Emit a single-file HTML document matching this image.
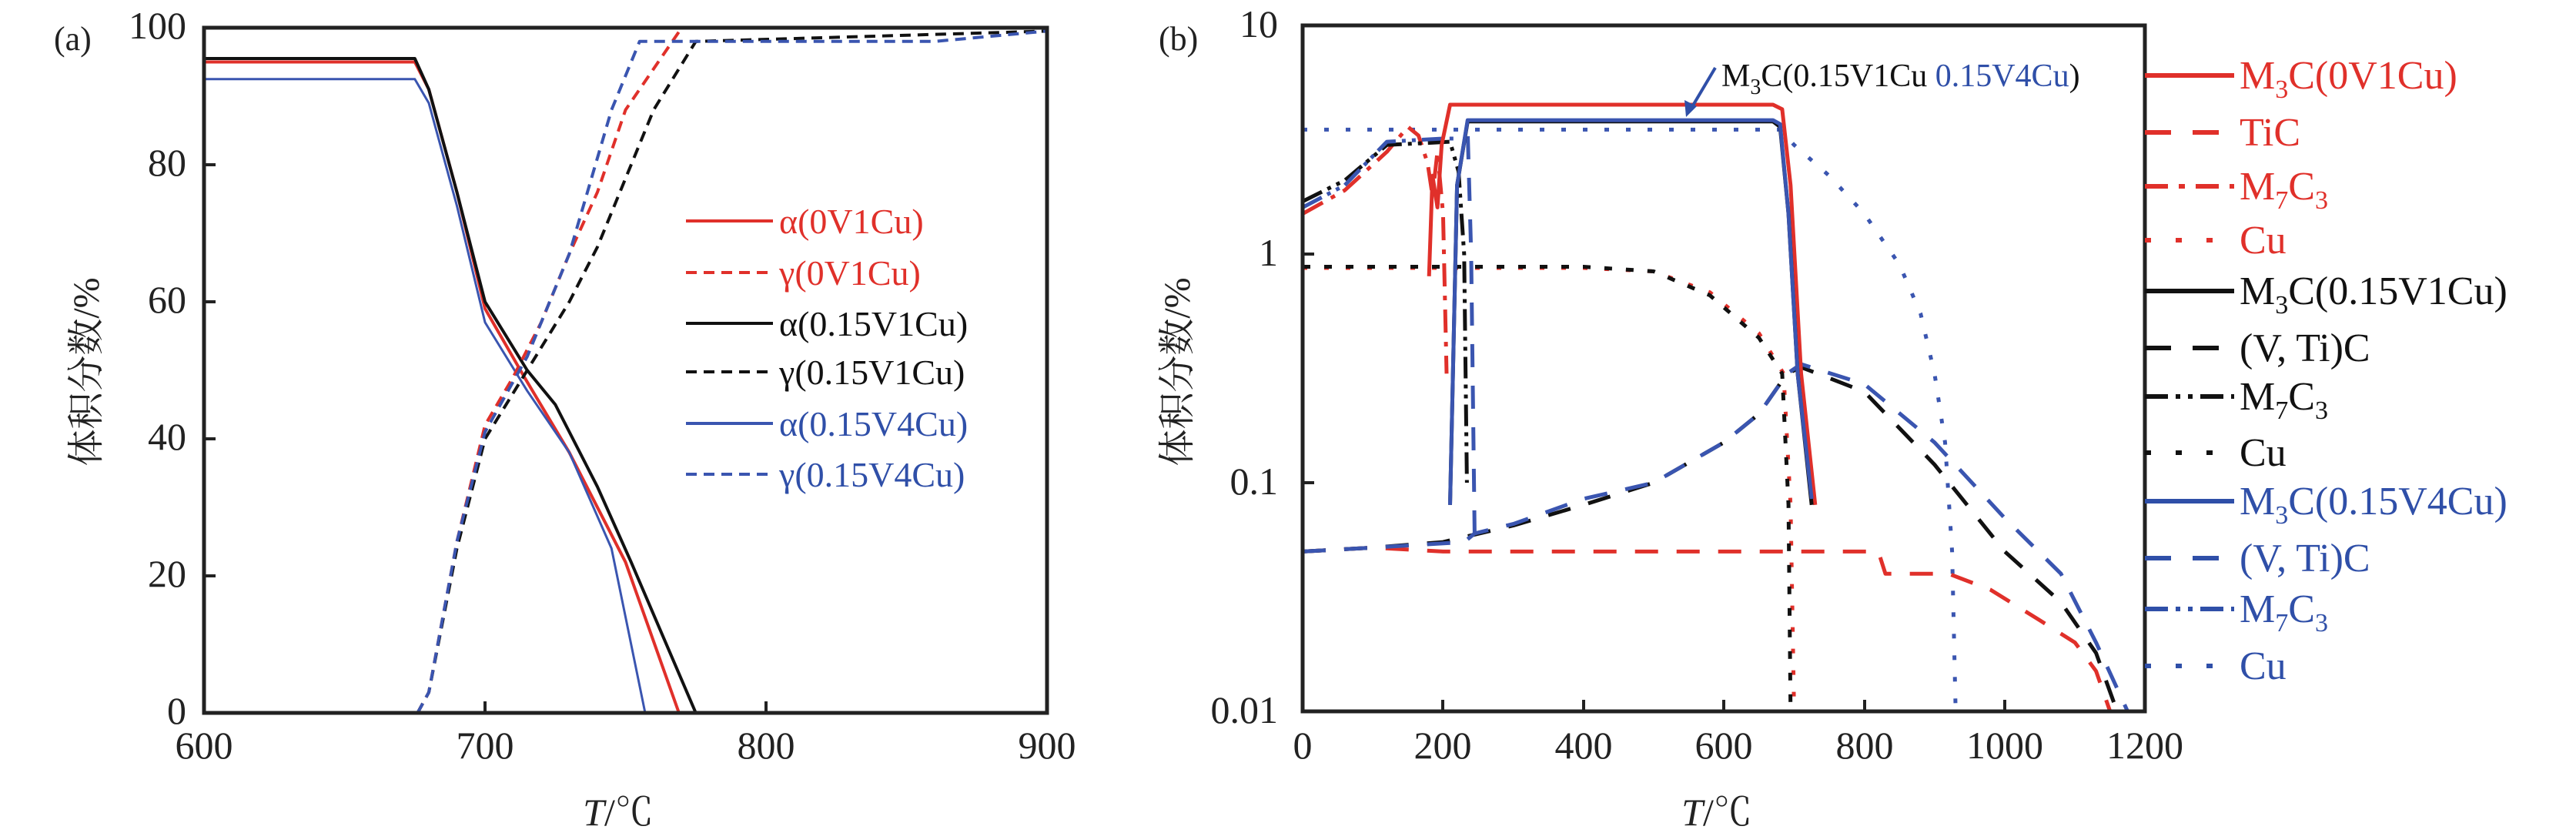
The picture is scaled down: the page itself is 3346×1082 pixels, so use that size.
<!DOCTYPE html>
<html><head><meta charset="utf-8">
<style>
html,body{margin:0;padding:0;background:#fff;}
svg{display:block;}
text{font-family:"Liberation Serif","Noto Serif CJK SC",serif;}
</style></head>
<body>
<svg id="s" width="3346" height="1082" viewBox="0 0 3346 1082" xmlns="http://www.w3.org/2000/svg">
<g id="curves" fill="none" stroke-linejoin="round"></g>
<rect x="265" y="36" width="1095" height="890" fill="none" stroke="#222" stroke-width="5"/>
<g stroke="#222" stroke-width="4">
<line x1="265" y1="748" x2="280" y2="748"/><line x1="265" y1="570" x2="280" y2="570"/><line x1="265" y1="392" x2="280" y2="392"/><line x1="265" y1="214" x2="280" y2="214"/>
<line x1="630" y1="926" x2="630" y2="911"/><line x1="995" y1="926" x2="995" y2="911"/>
</g>
<g font-size="50" fill="#222" text-anchor="end">
<text x="242" y="50">100</text><text x="242" y="228">80</text><text x="242" y="406">60</text><text x="242" y="584">40</text><text x="242" y="762">20</text><text x="242" y="940">0</text>
</g>
<g font-size="50" fill="#222" text-anchor="middle">
<text x="265" y="985">600</text><text x="630" y="985">700</text><text x="995" y="985">800</text><text x="1360" y="985">900</text>
</g>
<text x="70" y="65" font-size="44" fill="#222">(a)</text>
<text x="0" y="0" font-size="48" fill="#222" text-anchor="middle" transform="translate(128,483) rotate(-90)">体积分数/%</text>
<text x="803" y="1072" font-size="50" fill="#222" text-anchor="middle"><tspan font-style="italic">T</tspan>/℃</text>
<g stroke-width="4">
<line x1="891" y1="287" x2="1004" y2="287" stroke="#e0302a"/>
<line x1="891" y1="354" x2="1004" y2="354" stroke="#e0302a" stroke-dasharray="14,9"/>
<line x1="891" y1="420" x2="1004" y2="420" stroke="#111"/>
<line x1="891" y1="483" x2="1004" y2="483" stroke="#111" stroke-dasharray="14,9"/>
<line x1="891" y1="550" x2="1004" y2="550" stroke="#3a55b0"/>
<line x1="891" y1="616" x2="1004" y2="616" stroke="#3a55b0" stroke-dasharray="14,9"/>
</g>
<g font-size="46">
<text x="1012" y="303" fill="#e0302a">α(0V1Cu)</text>
<text x="1012" y="370" fill="#e0302a">γ(0V1Cu)</text>
<text x="1012" y="436" fill="#111">α(0.15V1Cu)</text>
<text x="1012" y="499" fill="#111">γ(0.15V1Cu)</text>
<text x="1012" y="566" fill="#2f4fa8">α(0.15V4Cu)</text>
<text x="1012" y="632" fill="#2f4fa8">γ(0.15V4Cu)</text>
</g>

<rect x="1692" y="33" width="1094" height="891" fill="none" stroke="#222" stroke-width="5"/>
<g stroke="#222" stroke-width="4">
<line x1="1692" y1="330" x2="1707" y2="330"/><line x1="1692" y1="627" x2="1707" y2="627"/>
<line x1="1874" y1="924" x2="1874" y2="909"/><line x1="2057" y1="924" x2="2057" y2="909"/><line x1="2239" y1="924" x2="2239" y2="909"/><line x1="2422" y1="924" x2="2422" y2="909"/><line x1="2604" y1="924" x2="2604" y2="909"/>
</g>
<g font-size="50" fill="#222" text-anchor="end">
<text x="1660" y="48">10</text><text x="1660" y="345">1</text><text x="1660" y="642">0.1</text><text x="1660" y="939">0.01</text>
</g>
<g font-size="50" fill="#222" text-anchor="middle">
<text x="1692" y="985">0</text><text x="1874" y="985">200</text><text x="2057" y="985">400</text><text x="2239" y="985">600</text><text x="2422" y="985">800</text><text x="2604" y="985">1000</text><text x="2786" y="985">1200</text>
</g>
<text x="1505" y="65" font-size="44" fill="#222">(b)</text>
<text x="0" y="0" font-size="48" fill="#222" text-anchor="middle" transform="translate(1545,483) rotate(-90)">体积分数/%</text>
<text x="2230" y="1072" font-size="50" fill="#222" text-anchor="middle"><tspan font-style="italic">T</tspan>/℃</text>
<text x="2236" y="112" font-size="42" fill="#111">M<tspan font-size="28" dy="10">3</tspan><tspan dy="-10">C(0.15V1Cu </tspan><tspan fill="#2f4fa8">0.15V4Cu</tspan>)</text>
<line x1="2228" y1="88" x2="2196" y2="142" stroke="#2f4fa8" stroke-width="4"/>
<polygon points="2190,152 2188,130 2204,138" fill="#2f4fa8"/>
<g stroke-width="6">
<line x1="2786" y1="98" x2="2902" y2="98" stroke="#e0302a"/>
<line x1="2786" y1="172" x2="2902" y2="172" stroke="#e0302a" stroke-dasharray="34,28"/>
<line x1="2786" y1="242" x2="2902" y2="242" stroke="#e0302a" stroke-dasharray="30,14,8,14"/>
<line x1="2786" y1="312" x2="2902" y2="312" stroke="#e0302a" stroke-dasharray="8,32"/>
<line x1="2786" y1="378" x2="2902" y2="378" stroke="#111"/>
<line x1="2786" y1="452" x2="2902" y2="452" stroke="#111" stroke-dasharray="34,28"/>
<line x1="2786" y1="515" x2="2902" y2="515" stroke="#111" stroke-dasharray="30,10,6,10,6,10"/>
<line x1="2786" y1="588" x2="2902" y2="588" stroke="#111" stroke-dasharray="8,32"/>
<line x1="2786" y1="651" x2="2902" y2="651" stroke="#2f4fa8"/>
<line x1="2786" y1="725" x2="2902" y2="725" stroke="#2f4fa8" stroke-dasharray="34,28"/>
<line x1="2786" y1="791" x2="2902" y2="791" stroke="#2f4fa8" stroke-dasharray="30,10,6,10,6,10"/>
<line x1="2786" y1="865" x2="2902" y2="865" stroke="#2f4fa8" stroke-dasharray="8,32"/>
</g>
<g font-size="52">
<text x="2909" y="115" fill="#e0302a">M<tspan font-size="34" dy="12">3</tspan><tspan dy="-12">C(0V1Cu)</tspan></text>
<text x="2909" y="189" fill="#e0302a">TiC</text>
<text x="2909" y="259" fill="#e0302a">M<tspan font-size="34" dy="12">7</tspan><tspan dy="-12">C</tspan><tspan font-size="34" dy="12">3</tspan></text>
<text x="2909" y="329" fill="#e0302a">Cu</text>
<text x="2909" y="395" fill="#111">M<tspan font-size="34" dy="12">3</tspan><tspan dy="-12">C(0.15V1Cu)</tspan></text>
<text x="2909" y="469" fill="#111">(V, Ti)C</text>
<text x="2909" y="532" fill="#111">M<tspan font-size="34" dy="12">7</tspan><tspan dy="-12">C</tspan><tspan font-size="34" dy="12">3</tspan></text>
<text x="2909" y="605" fill="#111">Cu</text>
<text x="2909" y="668" fill="#2f4fa8">M<tspan font-size="34" dy="12">3</tspan><tspan dy="-12">C(0.15V4Cu)</tspan></text>
<text x="2909" y="742" fill="#2f4fa8">(V, Ti)C</text>
<text x="2909" y="808" fill="#2f4fa8">M<tspan font-size="34" dy="12">7</tspan><tspan dy="-12">C</tspan><tspan font-size="34" dy="12">3</tspan></text>
<text x="2909" y="882" fill="#2f4fa8">Cu</text>
</g>
</svg>
<script>
(function(){
var g=document.getElementById('curves');
var R='#e0302a',K='#111',B='#3a55b0';
function ax(t){return 265+(t-600)*3.65;} function ay(v){return 926-v*8.9;}
function bx(t){return 1692+t*0.912;} function by(v){return 924-(Math.log10(v)+2)*297;}
function add(pts,fx,fy,col,w,dash){
 var d=pts.map(function(p,i){return (i?'L':'M')+fx(p[0]).toFixed(1)+' '+fy(p[1]).toFixed(1);}).join(' ');
 var p=document.createElementNS('http://www.w3.org/2000/svg','path');
 p.setAttribute('d',d);p.setAttribute('stroke',col);p.setAttribute('stroke-width',w);
 if(dash)p.setAttribute('stroke-dasharray',dash);g.appendChild(p);}
add([[600,95],[675,95],[680,91],[690,76],[700,59],[714,49],[730,38],[750,22],[769,0]],ax,ay,R,4);
add([[600,95.5],[675,95.5],[680,91],[690,76],[700,60],[715,50],[725,45],[740,33],[752,22],[775,0]],ax,ay,K,4);
add([[600,92.5],[675,92.5],[680,89],[690,74],[700,57],[715,47],[730,38],[745,24],[757,0]],ax,ay,B,3);
var dA='14,9';
add([[676,0],[680,3],[690,25],[700,42],[710,49],[720,57],[730,67],[740,76],[750,88],[770,100],[900,100]],ax,ay,R,4,dA);
add([[676,0],[680,3],[690,24],[700,40],[715,50],[730,60],[740,68],[750,78],[760,88],[775,98],[900,99.5]],ax,ay,K,4,dA);
add([[676,0],[680,3],[690,25],[700,41],[715,52],[730,67],[745,88],[755,98],[860,98],[900,99.5]],ax,ay,B,4,dA);
var D='30,24',DD='30,12,6,12',DDD='28,8,5,8,5,8',DT='6,22';
add([[0,3.5],[680,3.5],[700,3],[750,2.2],[800,1.5],[850,0.9],[880,0.55],[900,0.3],[915,0.15],[925,0.05],[930,0.01]],bx,by,B,5,DT);
add([[0,0.87],[400,0.87],[500,0.84],[580,0.68],[650,0.45],[685,0.3],[695,0.08],[700,0.01]],bx,by,R,5,DT);
add([[0,0.88],[400,0.88],[500,0.84],[580,0.66],[650,0.43],[683,0.3],[692,0.08],[695,0.01]],bx,by,K,5,'10,18');
add([[0,0.05],[100,0.052],[200,0.05],[820,0.05],[830,0.04],[920,0.04],[980,0.034],[1050,0.025],[1100,0.02],[1130,0.015],[1150,0.01]],bx,by,R,5,D);
add([[0,0.05],[100,0.052],[200,0.055],[300,0.065],[400,0.08],[500,0.1],[600,0.15],[650,0.2],[690,0.3],[710,0.32],[800,0.25],[900,0.12],[1000,0.05],[1080,0.03],[1130,0.018],[1160,0.01]],bx,by,K,5,D);
add([[0,0.05],[100,0.052],[230,0.055],[245,0.06],[300,0.066],[400,0.085],[500,0.1],[600,0.15],[650,0.2],[690,0.3],[710,0.33],[800,0.27],[900,0.15],[1000,0.07],[1080,0.04],[1130,0.02],[1175,0.01]],bx,by,B,5,D);
add([[245,0.06],[240,1],[235,3.5]],bx,by,B,5,D);
add([[0,1.5],[60,1.9],[120,2.8],[150,3.6],[165,3.3],[178,2.5],[185,1.8],[192,2.8],[200,1.5],[205,0.3]],bx,by,R,5,DD);
add([[0,1.7],[60,2.1],[120,3],[210,3.1],[222,2.3],[230,1],[234,0.1]],bx,by,K,5,DDD);
add([[0,1.6],[60,2],[120,3.1],[200,3.2],[215,3.2]],bx,by,B,5,DDD);
add([[180,0.8],[185,2.2],[192,1.6],[198,3],[210,4.5],[670,4.5],[683,4.3],[695,2],[710,0.3],[730,0.08]],bx,by,R,5);
add([[210,0.08],[220,2],[235,3.8],[670,3.8],[680,3.6],[692,1.5],[705,0.3],[725,0.08]],bx,by,K,5);
add([[210,0.08],[220,2],[235,3.85],[670,3.85],[680,3.7],[692,1.5],[705,0.3],[725,0.085]],bx,by,B,5);
})();
</script>
</body></html>
